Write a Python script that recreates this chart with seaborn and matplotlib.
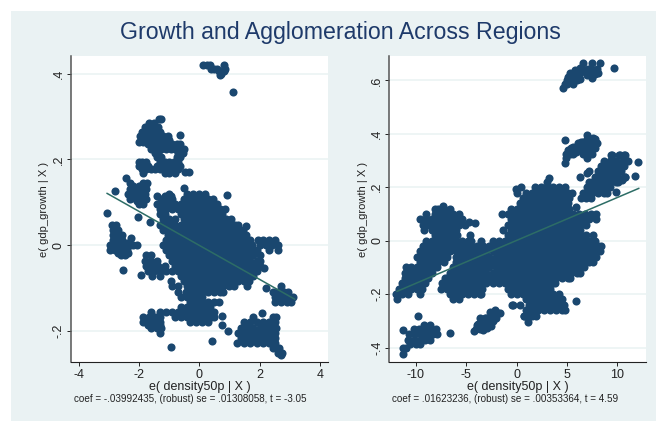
import pandas as pd
import seaborn as sns
import matplotlib.pyplot as plt
from matplotlib.patches import Rectangle

# Left panel, points: (residual growth, residual density values)
left_rows = [
    (.144, [-2.28, -1.85, -1.72]),
    (.138, [-2.2, -2, -1.8]),
    (.132, [-2.3, -2.1, -1.9, -1.75]),
    (.126, [-2.2, -2, -1.85]),
    (.12, [-2.35, -2.2, -2, -1.8, -1, -.4, -.2, 0, .2]),
    (.114, [-2.3, -2.1, -1.9, -1.15, -.95]),
    (.108, [-2.3, -2.1, -1.9, -1.75, -1.25, -1.1, -.9, -.5, -.3, -.1, .1, .3, .45]),
    (.102, [-2.05, -1.85]),
    (.096, [-2, -1.85, -1.4, -1.2, -1, -.8, -.6, -.4, -.2, 0, .2, .4, .6]),
    (.084, [-1.3, -1.1, -.9, -.7, -.5, -.3, -.1, .1, .3, .5, .7, .85]),
    (.072, [-1.3, -1.15, -.6, -.4, -.2, 0, .2, .4, .6, .75]),
    (.06, [-1.2, -1, -.8, -.5, -.3, -.1, .1, .3, .5, .7, .9, 1.05]),
    (.048, [-1.3, -1.1, -.9, -.8, -.6, -.4, -.2, 0, .2, .4, .6, .8, 1, 1.2, 1.3]),
    (.036, [-1.2, -1, -.9, -.7, -.5, -.3, -.1, .1, .3, .5, .7, .9, 1.1, 1.3, 1.45]),
    (.024, [-1.05, -.85, -.6, -.4, -.2, 0, .2, .4, .6, .8, 1, 1.2, 1.4, 1.55]),
    (.012, [-1.1, -.9, -.7, -.5, -.3, -.1, .1, .3, .5, .7, .9, 1.1, 1.3, 1.5, 1.7, 1.95, 2.1, 2.3, 2.5]),
    (0, [-1.2, -1, -.8, -.6, -.4, -.2, 0, .2, .4, .6, .8, 1, 1.2, 1.4, 1.6, 1.75, 2, 2.2, 2.4, 2.6]),
    (-.012, [-1.1, -.9, -.7, -.5, -.3, -.1, .1, .3, .5, .7, .9, 1.1, 1.3, 1.5, 1.7, 1.9, 2.3, 2.6]),
    (-.024, [-1.75, -1.6, -1, -.8, -.6, -.4, -.2, 0, .2, .4, .6, .8, 1, 1.2, 1.4, 1.6, 1.8, 2]),
    (-.036, [-1.8, -1.6, -1.4, -.9, -.7, -.5, -.3, -.1, .1, .3, .5, .7, .9, 1.1, 1.3, 1.5, 1.7, 1.9, 2]),
    (-.048, [-1.75, -1.55, -1.35, -1.15, -.8, -.6, -.4, -.2, 0, .2, .4, .6, .8, 1, 1.2, 1.4, 1.6, 1.8, 2]),
    (-.06, [-1.7, -1.5, -1.3, -1.1, -.9, -.7, -.5, -.3, -.1, .1, .3, .5, .7, .9, 1.1, 1.3, 1.5, 1.7, 1.9]),
    (-.072, [-1.55, -1.3, -.6, -.4, -.2, 0, .2, .4, .6, .8, 1, 1.2, 1.4, 1.6, 1.8]),
    (-.084, [-.95, -.5, -.3, -.1, .1, .3, .5, .7, .9, 1.1, 1.3, 1.5, 1.65]),
    (-.096, [-.9, -.7, -.4, -.2, 0, .2, .4, .6, .8, 1, 1.15, 1.6, 2.7]),
    (-.108, [-.7, -.45, -.3, -.1, .1, .3, .5, .7, .8, 2.45, 2.6, 2.8, 2.95]),
    (-.12, [-.6, -.4, -.2, 0, .1, 2.5, 2.7, 2.9, 3.1]),
    (-.132, [-.3, -.1, .1, .3, .5, .65, 2.5, 2.7, 2.9, 3.05]),
    (-.144, [-.6, -.4, -.2, 0, .2, .35]),
    (-.156, [-1.6, -1.3, -1.1, -.9, -.7, -.5, -.3, -.1, .1, .3, .5]),
    (-.168, [-1.85, -1.65, -1.45, -1.3, -.8, -.6, -.4, -.2, 0, .2, .4, .5, 1.8, 2.45, 2.55]),
    (-.174, [-1.6, -1.4]),
    (-.18, [-1.85, -1.7, -1.5, -1.3, -.3, -.1, .1, .3, 1.5, 1.7, 1.9, 2.1, 2.3, 2.5]),
    (-.186, [-1.7, -1.5, -1.3]),
    (-.192, [-1.6, -1.4, -1.25, 1.4, 1.6, 1.8, 2, 2.2, 2.4, 2.55]),
    (-.204, [-1.3, 1.3, 1.5, 1.7, 1.9, 2.1, 2.3, 2.5]),
    (-.216, [1.4, 1.6, 1.8, 2, 2.2, 2.4, 2.5]),
    (-.228, [1.25, 1.5, 1.7, 1.9, 2.1, 2.3, 2.5]),
    (-.24, [2.45, 2.65]),
    (-.252, [2.6, 2.75]),
    (-.256, [2.7]),
    # far left group
    (.048, [-2.88, -2.75]),
    (.036, [-2.85, -2.7]),
    (.024, [-2.85, -2.7, -2.55]),
    (.012, [-2.85, -2.7, -2.55]),
    (.006, [-2.7, -2.55, -2.4]),
    (0, [-2.95, -2.8, -2.6, -2.45, -2.3, -2.2, -2.05]),
    (-.012, [-2.95, -2.8, -2.6, -2.4]),
    (-.018, [-2.7, -2.55, -2.35]),
    (-.024, [-2.6, -2.45]),
    # group above the main cloud
    (.285, [-1.65, -1.5]),
    (.275, [-1.8, -1.65, -1.5, -1.38]),
    (.265, [-1.9, -1.75, -1.6, -1.45, -1.3]),
    (.255, [-1.95, -1.8, -1.65, -1.5, -1.35, -1.2, -1.05]),
    (.245, [-1.9, -1.75, -1.6, -1.45, -1.3, -1.15, -1]),
    (.24, [-2, -1.85]),
    (.235, [-1.7, -1.5, -1.35, -1.2, -1.05, -.9, -.75, -.65]),
    (.225, [-1.6, -1.4, -1.25, -1.1, -.95, -.8, -.6, -.5]),
    (.215, [-1.45, -1.35, -.7, -.55]),
    (.205, [-1.4, -1.25, -.75, -.65]),
    (.195, [-2, -1.9, -1.75, -1.3, -1.15, -1, -.85, -.7]),
    (.185, [-2, -1.85, -1.7, -1.4, -1.25, -1.1, -.95, -.8, -.65]),
    (.178, [-1.9, -1.75, -1.6, -1.45, -1.3, -1.15, -1, -.85, -.7]),
    (.168, [-1.85, -1.15, -1, -.8]),
]
left_top_x = [.13, .25, .35, .38, .5, .6, .65, .72, .68, .83, .85, .82]
left_top_y = [.42, .42, .42, .41, .41, .41, .405, .4, .397, .42, .41, .405]
left_dots_x = [1.13, -1.33, -1.25, -.64, -.47, -.34, -2.43, -2.78, -.5, .91, -3.05, -2.02, -1.63, -1.41, 1.55,
               2.15, 2.23, .74, .75, .95, .44, -.92, 2.09, -2.27, -2.54, -1.92]
left_dots_y = [.358, .294, .295, .257, .171, .171, .157, .127, .133, .118, .076, .066, .055, .115, .045,
               -.054, -.1, -.166, -.187, -.2, -.223, -.238, -.157, .017, -.059, -.07]
left_line_x = [-3.06, 3.17]
left_line_y = [.121, -.126]

# Right panel, same way
right_rows = [
    (.32, [9.4, 9.5, 10.2, 10.25, 10.6, 10.7]),
    (.3, [8.7, 9.3, 9.9, 10.5, 11]),
    (.28, [8.4, 9, 9.6, 10.2, 10.6]),
    (.26, [7.2, 8.1, 8.7, 9.3, 9.9, 10.3]),
    (.24, [7.8, 8.4, 9, 9.6, 10.1, 10.75]),
    (.22, [3, 7.2, 7.5, 8.1, 8.7, 9.3, 9.9, 10.1]),
    (.2, [1.8, 2.4, 3, 3.6, 4.2, 4.8, 7, 7.2, 7.8, 8.4, 9, 9.3]),
    (.18, [0, .9, 1.5, 2.1, 2.7, 3.3, 3.9, 4.5, 5.1, 5.5, 6.6, 7.2, 7.5, 8.1, 8.7, 9]),
    (.16, [.6, 1.2, 1.8, 2.4, 3, 3.6, 4.2, 4.8, 5.2, 6.4, 6.9, 7.4]),
    (.14, [.3, .9, 1.5, 2.1, 2.7, 3.3, 3.9, 4.5, 5.1]),
    (.13, [-7.34]),
    (.12, [-8.1, -7.8, -7.2, -6.6, -.6, 0, .6, 1.2, 1.8, 2.4, 3, 3.6, 4.2, 4.8, 5.2]),
    (.1, [-9, -8.1, -7.5, -6.9, -6.3, -5.7, -1.5, -.9, -.3, .3, .9, 1.5, 2.1, 2.7, 3.3, 3.9, 4.5, 5.1, 5.6, 6.2, 6.8,
          7.4, 7.9]),
    (.08, [-9.6, -9, -8.4, -7.8, -7.2, -6.6, -6, -5.4, -.6, 0, .6, 1.2, 1.8, 2.4, 3, 3.6, 4.2, 4.8, 5.4, 6, 6.6, 7.2,
           7.9]),
    (.06, [-9.3, -8.7, -8.1, -7.5, -6.9, -6.3, -5.7, -5.1, -.9, -.3, .3, .9, 1.5, 2.1, 2.7, 3.3, 3.9, 4.5, 5.1, 5.7,
           6.3, 6.9]),
    (.04, [-9.2, -8.4, -7.8, -7.2, -6.6, -6, -1.4, -.6, 0, .6, 1.2, 1.8, 2.4, 3, 3.6, 4.2, 4.8, 5.4, 6, 6.3]),
    (.02, [-8.1, -7.5, -6.9, -6.3, -5.9, -4.6, -.9, -.3, .3, .9, 1.5, 2.1, 2.7, 3.3, 3.9, 4.5, 5.1, 5.7, 6.3, 6.9,
           7.6]),
    (0, [-9, -8.4, -7.8, -7.2, -6.6, -6, -5.4, -4.8, -4.5, -3.57, -2.4, -1.8, -1.2, -.6, 0, .6, 1.2, 1.8, 2.4, 3, 3.6,
         4.2, 4.8, 5.4, 6, 6.6, 7.2, 7.8]),
    (-.02, [-9.3, -8.7, -8.1, -7.5, -6.9, -6.3, -5.7, -5.1, -4.5, -3.9, -3.3, -2.7, -2.1, -1.5, -.9, -.3, .3, .9, 1.5,
            2.1, 2.7, 3.3, 3.9, 4.5, 5.1, 5.7, 6.3, 6.9, 7.5, 8.1, 8.4]),
    (-.04, [-9.6, -9, -8.4, -7.8, -7.2, -6.6, -6, -5.4, -4.8, -4.2, -3.6, -3, -2.4, -1.8, -1.2, -.6, 0, .6, 1.2, 1.8,
            2.4, 3, 3.6, 4.2, 4.8, 5.4, 6, 6.6, 7.2, 7.8, 8.3]),
    (-.06, [-9.9, -9.3, -8.7, -8.1, -7.5, -6.9, -6, -5.7, -5.1, -4.5, -3.9, -3.3, -2.7, -2.1, -1.5, -.9, -.3, .3, .9,
            1.5, 2.1, 2.7, 3.3, 3.9, 4.5, 5.1, 5.7, 6.3, 6.9, 7.5, 7.9]),
    (-.08, [-9.6, -9, -8.4, -7.8, -7.2, -6, -5.4, -4.8, -4.2, -3.6, -3, -2.4, -1.8, -1.2, -.6, 0, .6, 1.2, 1.8, 2.4, 3,
            3.6, 4.2, 4.8, 5.4, 6, 6.6, 7.2, 7.6]),
    (-.1, [-11, -10.5, -9.9, -9.3, -8.7, -8.1, -7.9, -6.3, -5.7, -5.1, -4.5, -3.9, -3.3, -2.7, -2.1, -1.5, -.9, -.3,
           .3, .9, 1.5, 2.1, 2.7, 3.3, 3.9, 4.5, 5.1, 5.7, 6.3, 6.7]),
    (-.12, [-11.1, -10.8, -10.2, -9.6, -9, -8.4, -6.6, -6, -5.4, -4.8, -4.2, -3.6, -3, -2.4, -1.8, -1.2, -.6, 0, .6,
            1.2, 1.8, 2.4, 3, 3.6, 4.2, 4.8, 5.4, 6, 6.3]),
    (-.14, [-11.1, -10.5, -9.9, -9.3, -8.8, -7.1, -6.9, -6.3, -5.7, -5.1, -4.5, -3.9, -3.3, -2.7, -2.1, -1.5, -.9, -.3,
            .3, .9, 1.5, 2.1, 2.7, 3.3, 3.9, 4.5, 5.1, 5.3]),
    (-.16, [-11.4, -10.8, -10.2, -9.6, -9.1, -7.4, -7.2, -6.6, -6, -5.4, -4.8, -4.2, -3.6, -3, -2.4, -1.8, -1.2, -.6, 0,
            .6, 1.2, 1.8, 2.4, 3, 3.6, 3.8]),
    (-.18, [-11.7, -11.1, -10.5, -9.9, -9.4, -7.5, -6.9, -6.3, -5.7, -5.1, -4.5, -3.9, -3.4, -.9, -.3, .3, .9, 1.5, 2.1,
            2.7, 3.3]),
    (-.2, [-12, -11.4, -10.8, -9.6, -6.6, -6, -5.4, -4.8, -4.2, -3.6, -.6, 0, .6, 1.2, 1.8, 2.4, 3, 3.6, 4.2]),
    (-.22, [-11.9, -6.3, -5.7, .9, 1.5, 2.1, 2.7, 3.3, 3.9, 4.5]),
    (-.24, [-.47, .33, 1.2, 1.8, 2.4, 3, 3.6, 4.2, 4.7]),
    (-.26, [.9, 1.5, 2.1, 2.7, 3.3, 3.9, 4.5, 4.8]),
    (-.28, [.7, 1.2, 1.5, 1.9]),
    # lower left group
    (-.315, [-9.2, -8.6]),
    (-.33, [-10.2, -9.7, -9.1, -8.5, -8]),
    (-.35, [-10.7, -10.1, -9.5, -8.9, -8.3, -7.9]),
    (-.37, [-10.8, -10.2, -9.6, -9.1, -8.6]),
    (-.385, [-10.6, -10, -9.6]),
    (-.4, [-11.3, -11]),
]
right_low_x = [-4.2, -3.8, -3.8, -3.3, -3.15, -2.65, -2.65, -2.15, -1.65, -2.05, -2.5, -4, -3.65, -3.3, -2.15,
               -3.6, -3.5, -3, -3, -2.7, -2.4, -2.4, -3.9, -3.6, -2.9, -2.3, -1.9]
right_low_y = [-.338, -.31, -.328, -.316, -.29, -.297, -.266, -.26, -.272, -.29, -.32, -.332, -.29, -.334, -.28,
               -.31, -.325, -.31, -.29, -.315, -.28, -.3, -.315, -.33, -.325, -.265, -.27]
right_top_x = [4.6, 4.79, 5.29, 5.62, 6.02, 5.29, 5.79, 6.28, 6.61, 6.61, 6.94, 7.44, 7.5, 8.27, 7.94, 8.1, 7.44,
               9.62, 7.1, 5, 5.5, 5.5, 6, 6.3, 6.9, 7.2, 5.1, 5, 6.3, 7.75]
right_top_y = [.57, .588, .607, .588, .6, .626, .638, .626, .663, .638, .62, .607, .663, .663, .644, .628, .638,
               .647, .644, .6, .62, .6, .62, .605, .64, .625, .612, .585, .645, .625]
right_mid_x = [4.8, 4.79, 4.86, 5.12, 5.62, 5.62, 6.12, 6.12, 6.61, 6.61, 6.94, 6.94, 7.1, 7.44, 7.6, 7.94, 7.77, 6.94,
               5.3, 5.9, 5.4, 6.4, 6.4, 6.8, 7.3, 7.4, 7.1, 5.9, 6.6, 7.2, 7.5, 7.8, 4.9, 7]
right_mid_y = [.378, .289, .308, .339, .351, .326, .364, .339, .37, .345, .395, .308, .358, .326, .383, .364, .345,
               .339, .325, .35, .345, .35, .37, .36, .345, .37, .385, .33, .325, .33, .355, .38, .325, .38]
right_dots_x = [12.04, 11.77, 10.75, 10.4, 9.85, 6.28, 5.85, 7, 3.24, -.1, .43, -4.7, -4.14, -9.83, -11.3, -6.6,
                -11.3, .76, 1.12, 5.88, -.4, -3.57]
right_dots_y = [.293, .243, .237, .227, .184, .237, .127, .254, .233, .192, .2, .07, .067, -.282, -.334, -.347,
                -.425, -.282, -.304, -.224, -.24, -.2]
right_line_x = [-11.9, 12.13]
right_line_y = [-.19, .196]


def build_points(rows, *extra):
    xs = [x for y, row in rows for x in row]
    ys = [y for y, row in rows for x in row]
    for ex, ey in extra:
        xs += ex
        ys += ey
    return pd.DataFrame({'density': xs, 'growth': ys})


df_left = build_points(left_rows, (left_top_x, left_top_y), (left_dots_x, left_dots_y))
df_right = build_points(right_rows, (right_low_x, right_low_y), (right_top_x, right_top_y), (right_mid_x, right_mid_y),
                        (right_dots_x, right_dots_y))

sns.set_theme(style='white')
plt.rcParams['font.family'] = ['Liberation Sans', 'DejaVu Sans']

W, H = 656, 421
bg = '#EAF2F3'
navy = '#1A476F'
green = '#2D6D66'

fig = plt.figure(figsize=(W / 100, H / 100), dpi=100, facecolor='white')
fig.patches.append(Rectangle((11 / W, 0), 1 - 11 / W, 1 - 11 / H, transform=fig.transFigure, facecolor=bg,
                             edgecolor='none', zorder=-1))

ax1 = fig.add_axes([71 / W, 1 - 362.3 / H, 257 / W, 306.3 / H])
ax2 = fig.add_axes([389.3 / W, 1 - 362.3 / H, 256.7 / W, 306.3 / H])

panels = [
    (ax1, df_left, left_line_x, left_line_y, (-4.25, 4.27), (-.273, .441), [-4, -2, 0, 2, 4], [-.2, 0, .2, .4],
     ['-4', '-2', '0', '2', '4'], ['-.2', '0', '.2', '.4']),
    (ax2, df_right, right_line_x, right_line_y, (-12.64, 12.83), (-.455, .691), [-10, -5, 0, 5, 10],
     [-.4, -.2, 0, .2, .4, .6], ['-10', '-5', '0', '5', '10'], ['-.4', '-.2', '0', '.2', '.4', '.6']),
]

for ax, df, lx, ly, xlim, ylim, xt, yt, xtl, ytl in panels:
    ax.set_facecolor('white')
    ax.set_axisbelow(True)
    ax.grid(axis='y', color=bg, lw=1.1)
    ax.grid(axis='x', visible=False)
    sns.scatterplot(data=df, x='density', y='growth', ax=ax, s=34, color=navy, edgecolor=navy, linewidth=0,
                    zorder=3)
    sns.lineplot(x=lx, y=ly, ax=ax, color=green, lw=1.1, zorder=4, errorbar=None)
    ax.set_xlim(xlim)
    ax.set_ylim(ylim)
    ax.set_xticks(xt, xtl)
    ax.set_yticks(yt, ytl)
    ax.tick_params(axis='x', length=3, width=.7, color='#222222', labelsize=9, labelcolor='#222222', pad=2, bottom=True)
    ax.tick_params(axis='y', length=3, width=.7, color='#222222', labelsize=9, labelcolor='#222222', pad=1.5, left=True,
                   labelrotation=90)
    for lab in ax.get_yticklabels():
        lab.set_va('center')
    ax.set_xlabel('e( density50p | X )', fontsize=9, color='#222222', labelpad=0)
    ax.set_ylabel('e( gdp_growth | X )', fontsize=8, color='#222222', labelpad=2.5)
    sns.despine(ax=ax)
    ax.spines['left'].set_color('#555555')
    ax.spines['left'].set_linewidth(1.1)
    ax.spines['bottom'].set_color('#222222')
    ax.spines['bottom'].set_linewidth(.8)

fig.text(340 / W, 1 - 32 / H, 'Growth and Agglomeration Across Regions', ha='center', va='center', fontsize=16.7,
         color='#1E3A6A')
fig.text(190 / W, 1 - 399 / H, 'coef = -.03992435, (robust) se = .01308058, t = -3.05', ha='center', va='center',
         fontsize=7.15, color='#222222')
fig.text(504.7 / W, 1 - 399 / H, 'coef = .01623236, (robust) se = .00353364, t = 4.59', ha='center', va='center',
         fontsize=7.15, color='#222222')

fig.savefig('out.png', dpi=100)
